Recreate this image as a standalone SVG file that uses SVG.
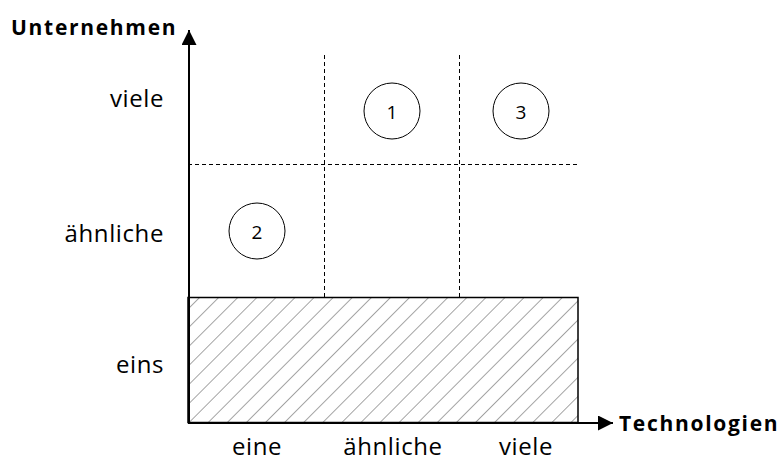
<svg xmlns="http://www.w3.org/2000/svg" width="784" height="462" viewBox="0 0 784 462">
  <style>
    .lbl { font-family: "Open Sans", "Liberation Sans", sans-serif; font-size: 24px; letter-spacing: 0.6px; fill: #000; }
    .axis-title { font-family: "Open Sans", "Liberation Sans", sans-serif; font-size: 21px; font-weight: bold; letter-spacing: 1.7px; fill: #000; }
    .num { font-family: "Open Sans", "Liberation Sans", sans-serif; font-size: 19px; fill: #000; text-anchor: middle; dominant-baseline: central; }
    .grid { stroke: #000; stroke-width: 1; stroke-dasharray: 4 3; fill: none; }
    .axis { stroke: #000; stroke-width: 2; fill: none; }
    .bubble { fill: #fff; stroke: #000; stroke-width: 1; }
  </style>
  <defs>
    <pattern id="hatch" patternUnits="userSpaceOnUse" width="13.5" height="13.5" patternTransform="rotate(45)">
      <line x1="0" y1="0" x2="0" y2="13.5" stroke="#8f8f8f" stroke-width="1.6"/>
    </pattern>
    <marker id="arrow" viewBox="0 0 10 10" refX="10" refY="5" markerWidth="7.5" markerHeight="7.5" markerUnits="strokeWidth" orient="auto">
      <path d="M0,0 L10,5 L0,10 Z" fill="#000"/>
    </marker>
  </defs>

  <rect width="784" height="462" fill="#fff"/>

  <!-- shaded row: single company -->
  <g id="zone-eins">
    <rect x="188" y="297.5" width="390" height="125" fill="url(#hatch)" stroke="#000" stroke-width="1.5"/>
  </g>

  <!-- dashed grid lines -->
  <g id="grid">
    <line class="grid" x1="324.5" y1="55" x2="324.5" y2="297"/>
    <line class="grid" x1="459.5" y1="55" x2="459.5" y2="297"/>
    <line class="grid" x1="188" y1="164.5" x2="580" y2="164.5"/>
  </g>

  <!-- axes -->
  <g id="connectors">
    <line class="axis" x1="189" y1="424" x2="189" y2="30" marker-end="url(#arrow)"/>
    <line class="axis" x1="188" y1="423" x2="613" y2="423" marker-end="url(#arrow)"/>
  </g>

  <!-- numbered positions -->
  <g id="node-1">
    <circle class="bubble" cx="392" cy="111" r="28"/>
    <text class="num" x="392" y="112">1</text>
  </g>
  <g id="node-2">
    <circle class="bubble" cx="257" cy="231" r="28"/>
    <text class="num" x="257" y="232">2</text>
  </g>
  <g id="node-3">
    <circle class="bubble" cx="521" cy="111" r="28"/>
    <text class="num" x="521" y="112">3</text>
  </g>

  <!-- axis titles -->
  <g id="title-y">
    <text class="axis-title" x="11" y="35">Unternehmen</text>
  </g>
  <g id="title-x">
    <text class="axis-title" x="619" y="431">Technologien</text>
  </g>

  <!-- row labels -->
  <g id="rows" text-anchor="end">
    <text class="lbl" x="164" y="107">viele</text>
    <text class="lbl" x="164" y="242">ähnliche</text>
    <text class="lbl" x="164" y="373">eins</text>
  </g>

  <!-- column labels -->
  <g id="cols" text-anchor="middle">
    <text class="lbl" x="257" y="455">eine</text>
    <text class="lbl" x="393" y="455">ähnliche</text>
    <text class="lbl" x="526" y="455">viele</text>
  </g>
</svg>
